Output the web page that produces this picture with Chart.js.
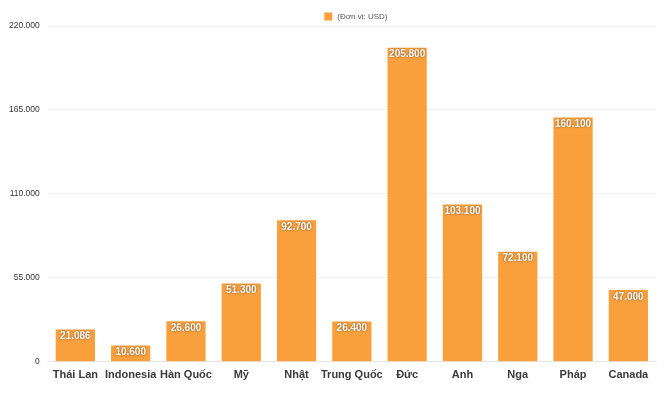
<!DOCTYPE html>
<html>
<head>
<meta charset="utf-8"/>
<title>Đơn vị: USD</title>
<script src="https://cdn.jsdelivr.net/npm/chart.js"></script>
<style>
	html,body{margin:0;padding:0;background:#fff;overflow:hidden;}
	canvas{display:block;}
</style>
</head>
<body>
<canvas id="myChart" width="670" height="398"></canvas>
<script>
const countries = ["Thái Lan","Indonesia","Hàn Quốc","Mỹ","Nhật","Trung Quốc","Đức","Anh","Nga","Pháp","Canada"];
const values = [21086,10600,26600,51300,92700,26400,205800,103100,72100,160100,47000];
const yTicks = [0,55000,110000,165000,220000];
const seriesLabel = "(Đơn vị: USD)";
const barColor = "#F9A03C";

function fmt(v){
	return String(v).replace(/\B(?=(\d{3})+(?!\d))/g,".");
}

// nhãn giá trị trắng ở đầu cột
const barLabels = {
	id:"barLabels",
	afterDatasetsDraw(chart){
		const ctx = chart.ctx;
		const meta = chart.getDatasetMeta(0);
		ctx.save();
		ctx.font = "bold 10px 'Liberation Sans', Arial, sans-serif";
		ctx.textAlign = "center";
		ctx.textBaseline = "middle";
		meta.data.forEach(function(bar,i){
			ctx.shadowColor = "rgba(0,0,0,0.6)";
			ctx.shadowBlur = 2;
			ctx.fillStyle = "#fff";
			ctx.fillText(fmt(values[i]), bar.x, bar.y + 7);
		});
		ctx.restore();
	}
};

// chú thích nhỏ phía trên, căn giữa vùng vẽ
const topLegend = {
	id:"topLegend",
	afterDraw(chart){
		const ctx = chart.ctx;
		const area = chart.chartArea;
		ctx.save();
		ctx.font = "8px 'Liberation Sans', Arial, sans-serif";
		const tw = ctx.measureText(seriesLabel).width;
		const total = 8 + 5 + tw;
		const x0 = (area.left + area.right) / 2 + 4 - total / 2;
		ctx.fillStyle = barColor;
		ctx.fillRect(x0, 12.5, 8, 8);
		ctx.fillStyle = "#555";
		ctx.textBaseline = "middle";
		ctx.fillText(seriesLabel, x0 + 13, 16.5);
		ctx.restore();
	}
};

new Chart(document.getElementById("myChart"),{
	type:"bar",
	data:{
		labels:countries,
		datasets:[{
			label:seriesLabel,
			data:values,
			backgroundColor:barColor,
			borderWidth:0,
			barPercentage:0.71,
			categoryPercentage:1
		}]
	},
	options:{
		responsive:false,
		animation:false,
		devicePixelRatio:1,
		layout:{padding:{left:1,right:14,top:26,bottom:9}},
		plugins:{
			legend:{display:false},
			tooltip:{enabled:false}
		},
		scales:{
			x:{
				grid:{display:false,drawTicks:false},
				border:{color:"#e6e6e6"},
				ticks:{
					color:"#3a3a3a",
					font:{size:11,weight:"bold",family:"'Liberation Sans', Arial, sans-serif"},
					maxRotation:0,
					autoSkip:false,
					padding:7
				}
			},
			y:{
				min:0,
				max:220000,
				afterBuildTicks(axis){
					axis.ticks = yTicks.map(function(v){return {value:v};});
				},
				grid:{color:"#f0f0f0",drawTicks:false},
				border:{display:false},
				ticks:{
					color:"#333",
					font:{size:8.5,family:"'Liberation Sans', Arial, sans-serif"},
					padding:8,
					callback:function(v){return fmt(v);}
				}
			}
		}
	},
	plugins:[barLabels,topLegend]
});
</script>
</body>
</html>
